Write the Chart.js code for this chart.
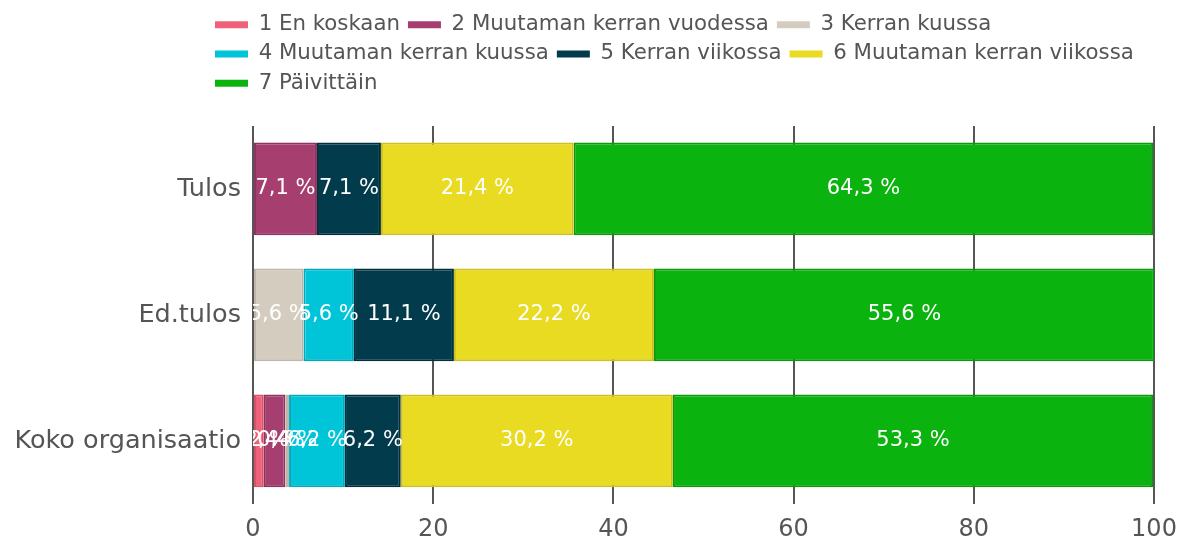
<!DOCTYPE html>
<html>
<head>
<meta charset="utf-8">
<script src="https://cdn.jsdelivr.net/npm/chart.js@4"></script>
<style>
  html, body { margin: 0; padding: 0; background: #fff; }
  #wrap { width: 1179px; height: 541px; }
</style>
</head>
<body>
<div id="wrap"><canvas id="chart"></canvas></div>
<script>
// Categories and series (percent of answers)
const categories = ['Tulos', 'Ed.tulos', 'Koko organisaatio'];
const seriesNames = [
  '1 En koskaan', '2 Muutaman kerran vuodessa', '3 Kerran kuussa',
  '4 Muutaman kerran kuussa', '5 Kerran viikossa', '6 Muutaman kerran viikossa',
  '7 Päivittäin'
];
const enKoskaan = [0, 0, 1.2];
const muutamanKerranVuodessa = [7.1, 0, 2.4];
const kerranKuussa = [0, 5.6, 0.4];
const muutamanKerranKuussa = [0, 5.6, 6.2];
const kerranViikossa = [7.1, 11.1, 6.2];
const muutamanKerranViikossa = [21.4, 22.2, 30.2];
const paivittain = [64.3, 55.6, 53.3];
const xTicks = [0, 20, 40, 60, 80, 100];

const fills = ['#ef6079', '#a63f70', '#d3ccbf', '#00c4d8', '#023b4b', '#e9da22', '#0bb30f'];
const edges = ['#d85169', '#8c3360', '#bdb6a9', '#00a9bb', '#01303d', '#cfc01a', '#099a0c'];
const FONT = "'DejaVu Sans', sans-serif";
const TEXT = '#555555';

const seriesData = [
  enKoskaan, muutamanKerranVuodessa, kerranKuussa, muutamanKerranKuussa,
  kerranViikossa, muutamanKerranViikossa, paivittain
];

// white value labels in the middle of each segment (kept inside the plot area)
const barLabels = {
  id: 'barLabels',
  afterDatasetsDraw(chart) {
    const ctx = chart.ctx;
    const area = chart.chartArea;
    ctx.save();
    ctx.beginPath();
    ctx.rect(area.left, area.top, area.right - area.left, area.bottom - area.top);
    ctx.clip();
    ctx.font = '21px ' + FONT;
    ctx.fillStyle = '#ffffff';
    ctx.textAlign = 'center';
    ctx.textBaseline = 'middle';
    chart.data.datasets.forEach((ds, i) => {
      chart.getDatasetMeta(i).data.forEach((bar, j) => {
        const v = ds.data[j];
        if (!v) return;
        const p = bar.getProps(['x', 'y', 'base'], true);
        ctx.fillText(v.toFixed(1).replace('.', ',') + ' %', (p.x + p.base) / 2, p.y);
      });
    });
    ctx.restore();
  }
};

// legend rows start at a fixed left edge, plus a gap above the plot
const LEGEND_LEFT = 207, LEGEND_RIGHT = 1179;
const legendPlace = {
  id: 'legendPlace',
  afterInit(chart) {
    const legend = chart.legend;
    const fit = legend.fit;
    legend.fit = function () {
      this.maxWidth = LEGEND_RIGHT - LEGEND_LEFT;
      fit.call(this);
      this.height += 22;
    };
  },
  afterLayout(chart) {
    const legend = chart.legend;
    legend.left = LEGEND_LEFT;
    legend.right = LEGEND_RIGHT;
    legend.width = LEGEND_RIGHT - LEGEND_LEFT;
  }
};

new Chart(document.getElementById('chart'), {
  type: 'bar',
  data: {
    labels: categories,
    datasets: seriesNames.map((name, i) => ({
      label: name,
      data: seriesData[i],
      backgroundColor: fills[i],
      borderColor: edges[i],
      borderWidth: 2,
      borderSkipped: false,
      barPercentage: 0.92,
      categoryPercentage: 0.8
    }))
  },
  options: {
    indexAxis: 'y',
    responsive: true,
    maintainAspectRatio: false,
    animation: false,
    layout: { padding: { top: 6, left: 15, right: 25, bottom: 0 } },
    plugins: {
      legend: {
        position: 'top',
        align: 'start',
        labels: {
          boxWidth: 33,
          boxHeight: 7,
          padding: 8,
          color: TEXT,
          font: { size: 21.3, family: FONT },
          generateLabels: chart => Chart.defaults.plugins.legend.labels.generateLabels(chart)
            .map(item => ({ ...item, lineWidth: 0 }))
        }
      },
      tooltip: { enabled: false }
    },
    scales: {
      x: {
        stacked: true,
        min: 0,
        max: 100,
        afterBuildTicks: scale => { scale.ticks = xTicks.map(v => ({ value: v })); },
        afterFit: scale => {
          scale.height = 37;
          scale.paddingLeft = 0;
          scale.paddingRight = 0;
        },
        grid: { color: '#555555', lineWidth: 2, drawTicks: false },
        border: { display: false },
        ticks: { padding: 11, color: TEXT, font: { size: 24, family: FONT } }
      },
      y: {
        stacked: true,
        afterFit: scale => { scale.width = 238; },
        grid: { display: false, drawTicks: false },
        border: { display: false },
        ticks: { padding: 12, color: TEXT, font: { size: 25.5, family: FONT } }
      }
    }
  },
  plugins: [barLabels, legendPlace]
});
</script>
</body>
</html>
